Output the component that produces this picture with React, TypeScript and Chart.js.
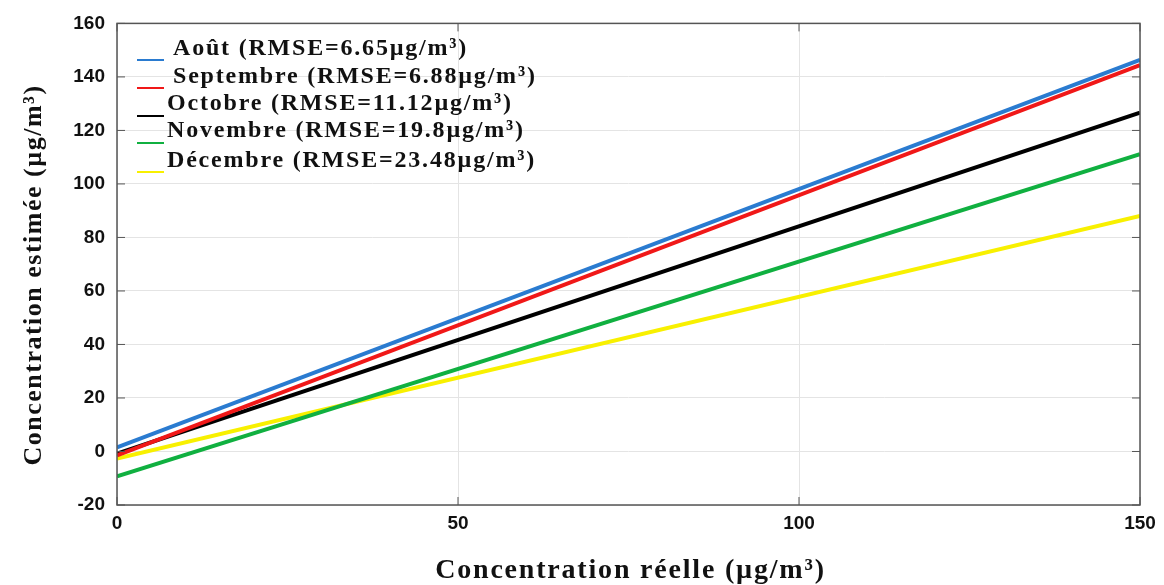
import React, { useEffect, useRef } from "react";
import { Chart, registerables } from "chart.js";

Chart.register(...registerables);

const xValues = [0, 150];
const aout = [1.5, 146.4];
const septembre = [-1.5, 144.4];
const octobre = [-0.8, 126.6];
const novembre = [-9.3, 111.1];
const decembre = [-2.6, 88.0];

const seriesLabels = [
  "Août (RMSE=6.65µg/m³)",
  "Septembre (RMSE=6.88µg/m³)",
  "Octobre (RMSE=11.12µg/m³)",
  "Novembre (RMSE=19.8µg/m³)",
  "Décembre (RMSE=23.48µg/m³)",
];
const seriesColors = ["#2a7bd0", "#f01818", "#000000", "#10b040", "#f8f000"];
const seriesValues = [aout, septembre, octobre, novembre, decembre];

const yTicks = [-20, 0, 20, 40, 60, 80, 100, 120, 140, 160];
const xTicks = [0, 50, 100, 150];

const xTitle = "Concentration réelle (µg/m³)";
const yTitle = "Concentration estimée (µg/m³)";

const boxPlugin = {
  id: "boxPlugin",
  afterDatasetsDraw(chart: any) {
    const { ctx, chartArea } = chart;
    const { left, right, top, bottom } = chartArea;
    ctx.save();
    ctx.strokeStyle = "#555555";
    ctx.lineWidth = 1.5;
    ctx.strokeRect(left, top, right - left, bottom - top);
    const xs = chart.scales.x;
    const ys = chart.scales.y;
    ctx.lineWidth = 1;
    xTicks.forEach((v) => {
      const px = xs.getPixelForValue(v);
      ctx.beginPath();
      ctx.moveTo(px, bottom);
      ctx.lineTo(px, bottom - 8);
      ctx.moveTo(px, top);
      ctx.lineTo(px, top + 8);
      ctx.stroke();
    });
    yTicks.forEach((v) => {
      const py = ys.getPixelForValue(v);
      ctx.beginPath();
      ctx.moveTo(left, py);
      ctx.lineTo(left + 8, py);
      ctx.moveTo(right, py);
      ctx.lineTo(right - 8, py);
      ctx.stroke();
    });
    ctx.restore();
  },
  afterDraw(chart: any) {
    const { ctx, chartArea } = chart;
    ctx.save();
    // legend
    ctx.font = "bold 24px 'Liberation Serif'";
    (ctx as any).letterSpacing = "1.8px";
    ctx.textBaseline = "middle";
    const textX = [173, 173, 167, 167, 167];
    const textY = [49, 77, 104, 131, 161];
    const lineY = [60, 88, 116, 143, 172];
    seriesLabels.forEach((lab, i) => {
      ctx.strokeStyle = seriesColors[i];
      ctx.lineWidth = 2;
      ctx.beginPath();
      ctx.moveTo(137, lineY[i]);
      ctx.lineTo(164, lineY[i]);
      ctx.stroke();
      ctx.fillStyle = "#111111";
      ctx.fillText(lab, textX[i], textY[i]);
    });
    // axis titles
    ctx.fillStyle = "#111111";
    ctx.textAlign = "center";
    ctx.textBaseline = "alphabetic";
    ctx.font = "bold 28px 'Liberation Serif'";
    (ctx as any).letterSpacing = "1.8px";
    ctx.fillText(xTitle, (chartArea.left + chartArea.right) / 2 + 2, 578);
    ctx.font = "bold 26px 'Liberation Serif'";
    (ctx as any).letterSpacing = "1.5px";
    ctx.translate(41, 275);
    ctx.rotate(-Math.PI / 2);
    ctx.fillText(yTitle, 0, 0);
    ctx.restore();
  },
};

export default function App() {
  const ref = useRef<HTMLCanvasElement | null>(null);
  useEffect(() => {
    document.body.style.margin = "0";
    if (!ref.current) return;
    const chart = new Chart(ref.current, {
      type: "line",
      data: {
        datasets: seriesValues.map((vals, i) => ({
          label: seriesLabels[i],
          data: xValues.map((x, j) => ({ x, y: vals[j] })),
          borderColor: seriesColors[i],
          backgroundColor: seriesColors[i],
          borderWidth: 4,
          pointRadius: 0,
          fill: false,
          tension: 0,
        })),
      },
      options: {
        animation: false,
        responsive: false,
        maintainAspectRatio: false,
        layout: { padding: { left: 0, right: 24, top: 20, bottom: 0 } },
        plugins: {
          legend: { display: false },
          tooltip: { enabled: false },
        },
        scales: {
          x: {
            type: "linear",
            min: 0,
            max: 150,
            afterBuildTicks: (s: any) => {
              s.ticks = xTicks.map((v) => ({ value: v }));
            },
            afterFit: (s: any) => {
              s.height = 80;
            },
            grid: { color: "#e4e4e4", drawTicks: false, lineWidth: 1 },
            border: { display: false },
            ticks: {
              padding: 7,
              color: "#111111",
              font: { family: "'Liberation Sans'", weight: "bold", size: 19 },
            },
            title: { display: false },
          },
          y: {
            type: "linear",
            min: -20,
            max: 160,
            afterBuildTicks: (s: any) => {
              s.ticks = yTicks.map((v) => ({ value: v }));
            },
            afterFit: (s: any) => {
              s.width = 117;
            },
            grid: { color: "#e4e4e4", drawTicks: false, lineWidth: 1 },
            border: { display: false },
            ticks: {
              padding: 12,
              color: "#111111",
              font: { family: "'Liberation Sans'", weight: "bold", size: 19 },
            },
            title: { display: false },
          },
        },
      },
      plugins: [boxPlugin],
    });
    return () => chart.destroy();
  }, []);
  return (
    <div style={{ position: "relative", width: 1164, height: 585, background: "#ffffff" }}>
      <canvas ref={ref} width={1164} height={585} style={{ display: "block" }} />
    </div>
  );
}
